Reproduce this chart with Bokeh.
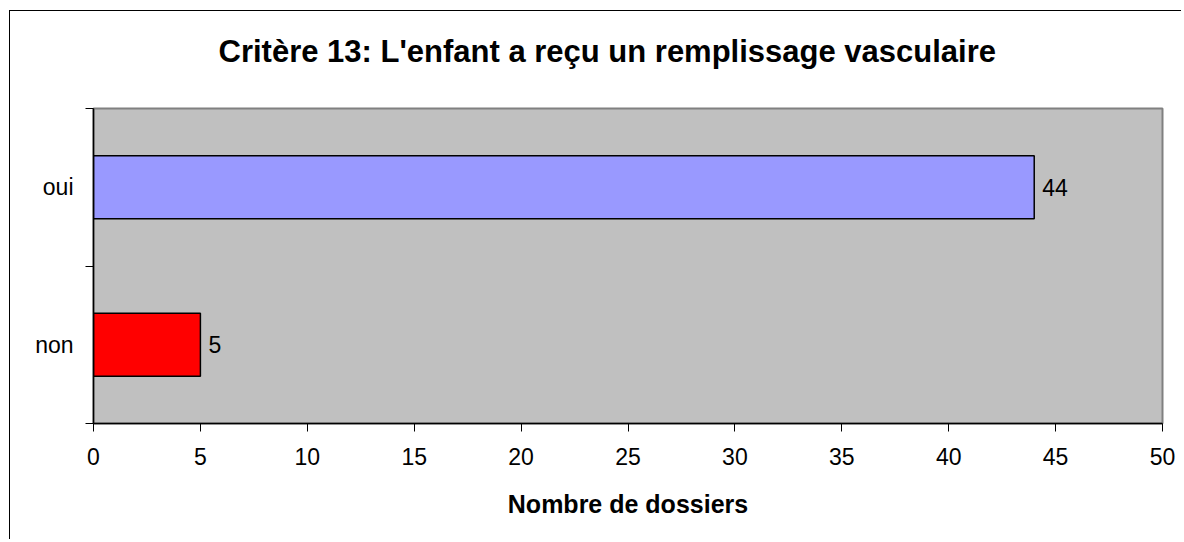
from bokeh.plotting import figure
from bokeh.models import FixedTicker, ColumnDataSource, Range1d, Title
from bokeh.embed import file_html
from bokeh.resources import INLINE
from bokeh.core.properties import value

# ---- data ----
categories = ["non", "oui"]
counts = [5, 44]
bar_colors = ["#FF0000", "#9999FF"]
x_ticks = [0, 5, 10, 15, 20, 25, 30, 35, 40, 45, 50]
title_text = "Critère 13: L'enfant a reçu un remplissage vasculaire"
x_label = "Nombre de dossiers"

FONT = "Liberation Sans"

pos = [i + 0.5 for i in range(len(categories))]
bounds = [float(i) for i in range(len(categories) + 1)]
src = ColumnDataSource(dict(y=pos, right=counts, color=bar_colors,
                            label=[str(c) for c in counts]))

p = figure(width=1172, height=529,
           x_range=Range1d(0, 50), y_range=Range1d(0, len(categories)),
           output_backend="svg", toolbar_location=None,
           min_border_left=83, min_border_right=20,
           min_border_top=97, min_border_bottom=117)
p.margin = (10, 0, 0, 9)
p.styles = {"border-left": "1px solid #000000", "border-top": "1px solid #000000"}

p.hbar(y="y", right="right", left=0, height=0.4, fill_color="color",
       line_color="black", line_width=1.5, source=src)
p.text(x="right", y="y", text="label", x_offset=8, text_baseline="middle",
       text_font=value(FONT), text_font_size="23px", text_color="black", source=src)

p.background_fill_color = "#C0C0C0"
p.border_fill_color = "white"
p.outline_line_color = "#808080"
p.outline_line_width = 2
p.xgrid.visible = False
p.ygrid.visible = False

# spacer between the frame and the title
p.add_layout(Title(text=" ", text_font_size="1px", standoff=32), "above")

# title
p.title.text = title_text
p.title.align = "left"
p.title.vertical_align = "bottom"
p.title.text_color = "black"
p.title.text_font = FONT
p.title.text_font_size = "31px"
p.title.text_font_style = "bold"
p.title.standoff = 10
p.title.offset = 125

# x axis
xa = p.xaxis[0]
xa.ticker = FixedTicker(ticks=x_ticks, minor_ticks=[])
xa.major_tick_out = 8
xa.major_tick_in = 0
xa.minor_tick_out = 0
xa.minor_tick_in = 0
xa.axis_line_color = "black"
xa.axis_line_width = 1.5
xa.major_tick_line_color = "black"
xa.major_tick_line_width = 1
xa.major_label_text_font = FONT
xa.major_label_text_font_size = "23px"
xa.major_label_text_color = "black"
xa.major_label_standoff = 16
xa.axis_label = x_label
xa.axis_label_text_font = FONT
xa.axis_label_text_font_size = "25px"
xa.axis_label_text_font_style = "bold"
xa.axis_label_text_color = "black"
xa.axis_label_standoff = 22

# y axis: labels at category centres, tick marks at category boundaries
ya = p.yaxis[0]
ya.ticker = FixedTicker(ticks=pos, minor_ticks=bounds)
ya.major_label_overrides = {pv: c for pv, c in zip(pos, categories)}
ya.major_tick_out = 0
ya.major_tick_in = 0
ya.minor_tick_out = 8
ya.minor_tick_in = 0
ya.minor_tick_line_color = "black"
ya.minor_tick_line_width = 1
ya.axis_line_color = "black"
ya.axis_line_width = 1.5
ya.major_label_text_font = FONT
ya.major_label_text_font_size = "23px"
ya.major_label_text_color = "black"
ya.major_label_standoff = 12

open("out.html", "w").write(file_html(p, INLINE))
